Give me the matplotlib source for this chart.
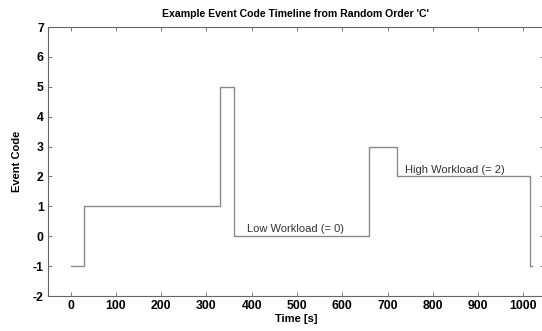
import matplotlib
matplotlib.use('Agg')
import matplotlib.pyplot as plt

# event timeline (step changes)
times = [0, 30, 330, 360, 660, 720, 1015, 1020]
codes = [-1, 1, 5, 0, 3, 2, -1, -1]

x_ticks = [0, 100, 200, 300, 400, 500, 600, 700, 800, 900, 1000]
y_ticks = [-2, -1, 0, 1, 2, 3, 4, 5, 6, 7]

plt.rcParams['font.family'] = ['Liberation Sans', 'DejaVu Sans']
plt.rcParams['axes.unicode_minus'] = False

fig = plt.figure(figsize=(5.42, 3.31), dpi=100)
ax = fig.add_axes([0.0886, 0.1057, 0.9146, 0.8127])

ax.step(times, codes, where='post', color='#8a8a8a', linewidth=1.0)

ax.text(389, 0.06, 'Low Workload (= 0)', fontsize=8, color='#333333', va='bottom')
ax.text(738, 2.04, 'High Workload (= 2)', fontsize=8, color='#333333', va='bottom')

ax.set_xlim(-50, 1045)
ax.set_ylim(-2, 7)
ax.set_xticks(x_ticks)
ax.set_yticks(y_ticks)
ax.tick_params(direction='in', top=True, right=True, length=3, width=0.6,
               color='#666666', labelsize=8.8, pad=3)
for lbl in ax.get_xticklabels() + ax.get_yticklabels():
    lbl.set_fontweight('bold')
for sp in ax.spines.values():
    sp.set_color('#666666')
    sp.set_linewidth(0.8)

ax.set_xlabel('Time [s]', fontsize=8, fontweight='bold', labelpad=1)
ax.set_ylabel('Event Code', fontsize=8, fontweight='bold', labelpad=8)
ax.set_title("Example Event Code Timeline from Random Order 'C'",
             fontsize=7.6, fontweight='bold', pad=7)

fig.savefig('out.png', dpi=100)
